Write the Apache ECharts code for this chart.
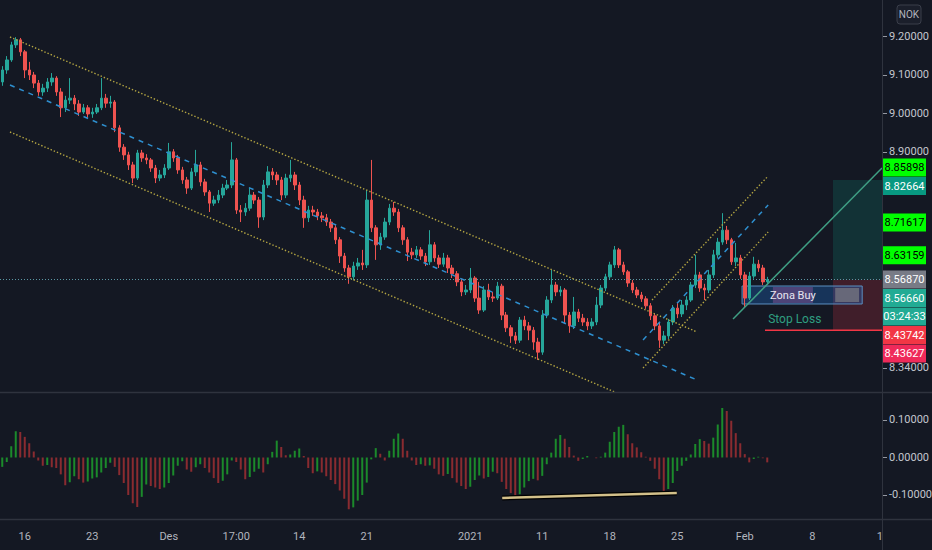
<!DOCTYPE html>
<html><head><meta charset="utf-8">
<script src="https://cdn.jsdelivr.net/npm/echarts@6/dist/echarts.min.js"></script>
<style>html,body{margin:0;padding:0;background:#141823;}#c{width:932px;height:550px;}</style>
</head><body><div id="c"></div>
<script>
// ---- DATA ----
// candles: [open, close, low, high]  (NOK, 8h-ish bars)
const candles = [
[9.081,9.112,9.071,9.122],[9.112,9.138,9.102,9.148],[9.138,9.177,9.133,9.185],[9.177,9.190,9.169,9.197],[9.190,9.159,9.148,9.195],
[9.159,9.112,9.091,9.164],[9.112,9.099,9.086,9.133],[9.099,9.078,9.065,9.107],[9.078,9.055,9.045,9.086],[9.055,9.065,9.045,9.076],
[9.065,9.081,9.055,9.091],[9.081,9.091,9.071,9.104],[9.091,9.055,9.045,9.096],[9.055,9.014,8.990,9.065],[9.014,9.034,9.003,9.045],
[9.034,9.039,9.024,9.091],[9.039,9.024,9.008,9.047],[9.024,9.003,8.993,9.034],[9.003,9.014,8.998,9.024],[9.014,8.998,8.988,9.021],
[8.998,9.003,8.988,9.014],[9.003,9.014,8.998,9.024],[9.014,9.039,9.008,9.091],[9.039,9.026,9.014,9.050],[9.026,9.029,9.014,9.045],
[9.029,8.962,8.951,9.034],[8.962,8.912,8.900,8.969],[8.912,8.892,8.879,8.920],[8.892,8.866,8.853,8.900],[8.866,8.832,8.819,8.874],
[8.832,8.897,8.827,8.905],[8.897,8.884,8.874,8.905],[8.884,8.879,8.868,8.894],[8.879,8.858,8.848,8.884],[8.858,8.832,8.819,8.866],
[8.832,8.840,8.824,8.853],[8.840,8.858,8.832,8.868],[8.858,8.900,8.853,8.923],[8.900,8.884,8.874,8.907],[8.884,8.853,8.843,8.892],
[8.853,8.827,8.817,8.861],[8.827,8.806,8.791,8.835],[8.806,8.848,8.801,8.858],[8.848,8.866,8.837,8.905],[8.866,8.822,8.811,8.874],
[8.822,8.796,8.786,8.830],[8.796,8.767,8.744,8.801],[8.767,8.775,8.760,8.786],[8.775,8.788,8.767,8.801],[8.788,8.806,8.780,8.817],
[8.806,8.814,8.801,8.827],[8.814,8.879,8.806,8.925],[8.879,8.749,8.739,8.884],[8.749,8.744,8.718,8.762],[8.744,8.754,8.734,8.767],
[8.754,8.788,8.747,8.806],[8.788,8.775,8.765,8.796],[8.775,8.731,8.703,8.783],[8.731,8.814,8.723,8.827],[8.814,8.848,8.806,8.863],
[8.848,8.840,8.827,8.858],[8.840,8.827,8.814,8.848],[8.827,8.788,8.775,8.835],[8.788,8.832,8.780,8.843],[8.832,8.840,8.822,8.879],
[8.840,8.814,8.801,8.848],[8.814,8.775,8.762,8.822],[8.775,8.729,8.703,8.786],[8.729,8.749,8.718,8.760],[8.749,8.744,8.734,8.760],
[8.744,8.734,8.723,8.752],[8.734,8.729,8.718,8.744],[8.729,8.718,8.708,8.739],[8.718,8.703,8.692,8.726],[8.703,8.672,8.661,8.710],
[8.672,8.630,8.612,8.679],[8.630,8.599,8.589,8.638],[8.599,8.576,8.558,8.607],[8.576,8.604,8.568,8.615],[8.604,8.612,8.594,8.625],
[8.612,8.607,8.594,8.646],[8.607,8.775,8.599,8.801],[8.775,8.703,8.692,8.879],[8.703,8.659,8.620,8.710],[8.659,8.679,8.646,8.690],
[8.679,8.718,8.672,8.729],[8.718,8.754,8.710,8.765],[8.754,8.744,8.734,8.770],[8.744,8.703,8.692,8.752],[8.703,8.672,8.659,8.710],
[8.672,8.640,8.617,8.679],[8.640,8.633,8.622,8.651],[8.633,8.646,8.625,8.656],[8.646,8.630,8.620,8.653],[8.630,8.615,8.604,8.638],
[8.615,8.659,8.607,8.697],[8.659,8.625,8.615,8.666],[8.625,8.609,8.599,8.633],[8.609,8.625,8.602,8.638],[8.625,8.599,8.586,8.633],
[8.599,8.584,8.573,8.607],[8.584,8.563,8.552,8.591],[8.563,8.537,8.526,8.571],[8.537,8.542,8.529,8.555],[8.542,8.573,8.534,8.599],
[8.573,8.521,8.511,8.578],[8.521,8.490,8.480,8.563],[8.490,8.542,8.485,8.552],[8.542,8.524,8.516,8.558],[8.524,8.521,8.511,8.537],
[8.521,8.552,8.516,8.563],[8.552,8.477,8.464,8.558],[8.477,8.444,8.433,8.485],[8.444,8.423,8.405,8.451],[8.423,8.412,8.402,8.433],
[8.412,8.464,8.405,8.472],[8.464,8.449,8.438,8.475],[8.449,8.438,8.412,8.459],[8.438,8.407,8.387,8.446],[8.407,8.381,8.361,8.418],
[8.381,8.477,8.374,8.490],[8.477,8.516,8.469,8.526],[8.516,8.555,8.508,8.594],[8.555,8.537,8.526,8.563],[8.537,8.542,8.526,8.552],
[8.542,8.477,8.454,8.547],[8.477,8.449,8.431,8.485],[8.449,8.485,8.441,8.524],[8.485,8.469,8.459,8.493],[8.469,8.459,8.449,8.480],
[8.459,8.449,8.438,8.469],[8.449,8.459,8.441,8.469],[8.459,8.503,8.451,8.524],[8.503,8.547,8.495,8.555],[8.547,8.576,8.539,8.584],
[8.576,8.607,8.568,8.615],[8.607,8.646,8.599,8.656],[8.646,8.607,8.599,8.651],[8.607,8.589,8.581,8.615],[8.589,8.560,8.550,8.594],
[8.560,8.542,8.534,8.568],[8.542,8.529,8.521,8.550],[8.529,8.519,8.511,8.537],[8.519,8.501,8.493,8.526],[8.501,8.475,8.464,8.508],
[8.475,8.449,8.438,8.482],[8.449,8.412,8.392,8.457],[8.412,8.423,8.402,8.436],[8.423,8.459,8.415,8.467],[8.459,8.495,8.451,8.503],
[8.495,8.480,8.469,8.508],[8.480,8.503,8.472,8.516],[8.503,8.516,8.490,8.526],[8.516,8.555,8.511,8.563],[8.555,8.581,8.547,8.633],
[8.581,8.547,8.537,8.589],[8.547,8.542,8.516,8.558],[8.542,8.581,8.534,8.594],[8.581,8.633,8.573,8.646],[8.633,8.666,8.625,8.677],
[8.666,8.697,8.659,8.741],[8.697,8.672,8.661,8.708],[8.672,8.615,8.607,8.677],[8.615,8.625,8.604,8.664],[8.625,8.581,8.571,8.633],
[8.581,8.521,8.498,8.589],[8.521,8.578,8.516,8.589],[8.578,8.609,8.571,8.628],[8.609,8.599,8.589,8.620],[8.599,8.563,8.555,8.607],
[8.563,8.5687,8.558,8.576]
];
// oscillator histogram, one value per candle
const osc = [
-0.025,-0.012,0.030,0.070,0.068,0.055,0.038,0.016,-0.008,-0.022,
-0.020,-0.026,-0.028,-0.045,-0.074,-0.066,-0.050,-0.058,-0.067,-0.064,
-0.056,-0.053,-0.040,-0.028,-0.014,-0.025,-0.047,-0.068,-0.100,-0.122,
-0.132,-0.105,-0.072,-0.076,-0.080,-0.084,-0.080,-0.068,-0.048,-0.022,
-0.010,-0.032,-0.038,-0.026,-0.018,-0.028,-0.040,-0.055,-0.068,-0.062,
-0.045,-0.008,-0.012,-0.032,-0.058,-0.052,-0.038,-0.030,-0.040,-0.018,
0.015,0.045,0.028,0.006,0.008,0.018,0.024,0.004,-0.028,-0.042,
-0.037,-0.040,-0.050,-0.060,-0.071,-0.088,-0.110,-0.138,-0.133,-0.115,
-0.100,-0.067,-0.005,0.025,0.010,-0.008,0.018,0.050,0.064,0.050,
0.018,-0.008,-0.020,-0.018,-0.022,-0.021,-0.030,-0.045,-0.049,-0.044,
-0.055,-0.067,-0.076,-0.084,-0.078,-0.060,-0.048,-0.056,-0.052,-0.038,
-0.042,-0.065,-0.084,-0.095,-0.107,-0.098,-0.080,-0.063,-0.057,-0.061,
-0.049,-0.018,0.013,0.050,0.060,0.050,0.028,0.005,-0.009,-0.004,
0.004,0.000,-0.002,0.002,0.013,0.042,0.068,0.082,0.087,0.062,
0.038,0.027,0.014,0.002,-0.009,-0.030,-0.058,-0.091,-0.084,-0.068,
-0.036,-0.022,-0.009,0.008,0.036,0.049,0.044,0.037,0.053,0.088,
0.132,0.124,0.098,0.065,0.038,0.009,-0.013,-0.004,0.002,-0.002,
-0.013];
const slotCount = 196;                 // bars + empty future space
const tickIndex = [5,20,37,52,66,81,104,120,135,150,165,180,195];
const tickText  = ['16','23','Des','17:00','14','21','2021','11','18','25','Feb','8','1'];
const priceTicks = [8.34, 8.90, 9.00, 9.10, 9.20];
const oscTicks = [-0.1, 0, 0.1];
const currentPrice = 8.5666;
// drawings: [barIndex, price]
const descUpper = [[1.72, 9.1974], [154.4, 8.4332]];
const descMid   = [[1.72, 9.0731], [154.4, 8.3088]];
const descLower = [[1.72, 8.9513], [136.6, 8.2751]];
const ascUpper  = [[144.4, 8.5161], [170.2, 8.8373]];
const ascMid    = [[142.4, 8.4124], [170.2, 8.7622]];
const ascLower  = [[142.4, 8.3399], [170.2, 8.6922]];
const trendUp   = [[162.4, 8.4669], [195.5, 8.8580]];
const oscTrend  = [[111.1, -0.108], [149.9, -0.0947]];
const position  = {start:184.6, end:195.5, target:8.82664, entry:8.56870, stop:8.43742};
const zonaBuy   = {x1:164.4, x2:191.1, top:8.5523, bottom:8.5057, labelX:175.7, labelY:8.5290, greyX1:185.1, greyX2:190.4, greyTop:8.5472, greyBottom:8.5109};
const stopLossText = [170.2, 8.4669];
const stopLine  = [[169.5, 8.43742], [195.5, 8.43742]];
const priceTags = [
  {v:8.85898, bg:'#00ff00', fg:'#000000'},
  {v:8.82664, bg:'#089981', fg:'#ffffff'},
  {v:8.71617, bg:'#00ff00', fg:'#000000'},
  {v:8.63159, bg:'#00ff00', fg:'#000000'},
  {v:8.56870, bg:'#787b86', fg:'#ffffff'},
  {v:8.56660, bg:'#22ab94', fg:'#ffffff', countdown:'03:24:33'},
  {v:8.43742, bg:'#f23645', fg:'#ffffff'},
  {v:8.43627, bg:'#ef2a5a', fg:'#ffffff'}
];

// ---- CHART ----
const FONT = 'Roboto, "Liberation Sans", sans-serif';
const cats = Array.from({length: slotCount}, (_, i) => String(i));
const tickMap = {}; tickIndex.forEach((k, j) => tickMap[k] = tickText[j]);
const oscData = osc.map((v, i) => ({value: v, itemStyle: {color: (i === 0 || v >= osc[i-1]) ? '#1b8a2b' : '#8a2b30'}}));
const chart = echarts.init(document.getElementById('c'), null, {renderer: 'svg'});

function drawLine(data, color, type, width, xi, yi, extra) {
  return Object.assign({type: 'line', xAxisIndex: xi, yAxisIndex: yi, data: data, symbol: 'none', silent: true,
    lineStyle: {color: color, type: type, width: width}, z: 5}, extra || {});
}
const YEL = '#b5a642', BLU = '#2e8fcf';
const option = {
  backgroundColor: '#141823',
  animation: false,
  textStyle: {fontFamily: FONT},
  grid: [
    {left: 0, right: 50, top: 0, height: 392, containLabel: false, outerBoundsMode: 'none'},
    {left: 0, right: 50, top: 394, height: 125, containLabel: false, outerBoundsMode: 'none'}
  ],
  xAxis: [
    {type: 'category', gridIndex: 0, data: cats, boundaryGap: true, axisLine: {show: false}, axisTick: {show: false}, axisLabel: {show: false}, splitLine: {show: false}},
    {type: 'value', gridIndex: 0, min: -0.5, max: slotCount - 0.5, show: false, splitLine: {show: false}},
    {type: 'category', gridIndex: 1, data: cats, boundaryGap: true, axisLine: {show: false}, axisTick: {show: false}, splitLine: {show: false},
      axisLabel: {show: true, interval: (i) => tickMap[i] !== undefined, formatter: (v, i) => tickMap[i] || '', color: '#b2b5be', fontSize: 11, margin: 12, fontFamily: FONT}},
    {type: 'value', gridIndex: 1, min: -0.5, max: slotCount - 0.5, show: false, splitLine: {show: false}}
  ],
  yAxis: [
    {type: 'value', gridIndex: 0, position: 'right', min: 8.2777, max: 9.2933, scale: true,
      axisLine: {show: false}, splitLine: {show: false}, axisTick: {show: false},
      axisLabel: {customValues: priceTicks, formatter: v => v.toFixed(5), color: '#c3c6ce', fontSize: 11, margin: 7, fontFamily: FONT}},
    {type: 'value', gridIndex: 1, position: 'right', min: -0.164, max: 0.1693,
      axisLine: {show: false}, splitLine: {show: false}, axisTick: {show: false},
      axisLabel: {customValues: oscTicks, formatter: v => v.toFixed(5), color: '#c3c6ce', fontSize: 11, margin: 7, fontFamily: FONT}}
  ],
  series: [
    {type: 'candlestick', xAxisIndex: 0, yAxisIndex: 0, data: candles, barWidth: 3, z: 3,
      itemStyle: {color: '#26a69a', color0: '#ef5350', borderColor: '#26a69a', borderColor0: '#ef5350', borderWidth: 1},
      markLine: {silent: true, symbol: 'none', label: {show: false},
        lineStyle: {color: '#5b97a3', type: [1, 2], width: 1}, data: [{yAxis: currentPrice}]}},
    {type: 'bar', xAxisIndex: 2, yAxisIndex: 1, data: oscData, barWidth: 2, silent: true},
    drawLine(trendUp, '#3f9f84', 'solid', 1.5, 1, 0, {
      markArea: {silent: true, data: [
        [{coord: [position.start, position.target], itemStyle: {color: 'rgba(8,153,129,0.20)'}}, {coord: [position.end, position.entry]}],
        [{coord: [position.start, position.entry], itemStyle: {color: 'rgba(242,54,69,0.20)'}}, {coord: [position.end, position.stop]}],
        [{coord: [zonaBuy.x1, zonaBuy.top], itemStyle: {color: 'rgba(33,120,220,0.30)', borderColor: '#5b8fc0', borderWidth: 1}}, {coord: [zonaBuy.x2, zonaBuy.bottom]}],
        [{coord: [zonaBuy.greyX1, zonaBuy.greyTop], itemStyle: {color: 'rgba(130,130,135,0.65)'}}, {coord: [zonaBuy.greyX2, zonaBuy.greyBottom]}]
      ]}}),
    drawLine(descUpper, YEL, [1.4, 2], 1.4, 1, 0),
    drawLine(descLower, YEL, [1.4, 2], 1.4, 1, 0),
    drawLine(descMid, BLU, [5, 5], 1.5, 1, 0),
    drawLine(ascUpper, YEL, [1.4, 2], 1.4, 1, 0),
    drawLine(ascLower, YEL, [1.4, 2], 1.4, 1, 0),
    drawLine(ascMid, BLU, [5, 5], 1.5, 1, 0),
    drawLine(stopLine, '#f23645', 'solid', 1.5, 1, 0),
    drawLine(oscTrend, '#000000', 'solid', 5, 3, 1),
    drawLine(oscTrend, '#d3c08a', 'solid', 2.5, 3, 1, {z: 6})
  ]
};
chart.setOption(option);

// ---- annotations placed through the chart's own scales ----
const P = (x, y) => chart.convertToPixel({seriesIndex: 2}, [x, y]);
const PY = (v) => chart.convertToPixel({yAxisIndex: 0}, v);
const PY2 = (v) => chart.convertToPixel({yAxisIndex: 1}, v);
const els = [];
// separators
els.push({type: 'line', shape: {x1: 0, y1: 392.5, x2: 932, y2: 392.5}, style: {stroke: '#2f333e', lineWidth: 1.5}, z: 50});
els.push({type: 'line', shape: {x1: 0, y1: 519.5, x2: 932, y2: 519.5}, style: {stroke: '#2f333e', lineWidth: 1.5}, z: 50});
els.push({type: 'line', shape: {x1: 882.5, y1: 0, x2: 882.5, y2: 550}, style: {stroke: '#2f333e', lineWidth: 1}, z: 50});
// price-scale tick dashes
priceTicks.forEach(v => { const y = Math.round(PY(v)) + 0.5; els.push({type: 'line', shape: {x1: 883, y1: y, x2: 887, y2: y}, style: {stroke: '#9598a1', lineWidth: 1}, z: 50}); });
oscTicks.forEach(v => { const y = Math.round(PY2(v)) + 0.5; els.push({type: 'line', shape: {x1: 883, y1: y, x2: 887, y2: y}, style: {stroke: '#9598a1', lineWidth: 1}, z: 50}); });
// NOK box
els.push({type: 'rect', shape: {x: 897, y: 5, width: 24, height: 19, r: 3}, style: {fill: '#1b1f2b', stroke: '#3a3e4a', lineWidth: 1}, z: 60});
els.push({type: 'text', x: 909, y: 14.5, style: {text: 'NOK', fill: '#b2b5be', font: '10px ' + FONT, align: 'center', verticalAlign: 'middle'}, z: 61});
// Zona Buy label
const zl = P(zonaBuy.labelX, zonaBuy.labelY);
els.push({type: 'rect', shape: {x: zl[0] - 20, y: zl[1] - 8, width: 40, height: 16}, style: {fill: '#4d4478'}, z: 40});
els.push({type: 'text', x: zl[0], y: zl[1], style: {text: 'Zona Buy', fill: '#e8e6f0', font: '11px ' + FONT, align: 'center', verticalAlign: 'middle'}, z: 41});
// Stop Loss text
const sl = P(stopLossText[0], stopLossText[1]);
els.push({type: 'text', x: sl[0], y: sl[1], style: {text: 'Stop Loss', fill: '#2f9e80', font: '12px ' + FONT, align: 'left', verticalAlign: 'middle'}, z: 41});
// price tags stacked on the price scale
const tagH = 18.5;
let prevBottom = -1e9;
function tag(top, bg, fg, text) {
  els.push({type: 'rect', shape: {x: 883, y: top, width: 43, height: tagH - 0.5}, style: {fill: bg}, z: 70});
  els.push({type: 'text', x: 904.5, y: top + tagH / 2, style: {text: text, fill: fg, font: '11px ' + FONT, align: 'center', verticalAlign: 'middle'}, z: 71});
}
priceTags.forEach(t => {
  const cy = PY(t.v);
  const top = Math.max(cy - tagH / 2, prevBottom);
  tag(top, t.bg, t.fg, t.v.toFixed(5));
  prevBottom = top + tagH;
  if (t.countdown) { tag(prevBottom, t.bg, t.fg, t.countdown); prevBottom += tagH; }
});
chart.setOption({graphic: els});
</script></body></html>
